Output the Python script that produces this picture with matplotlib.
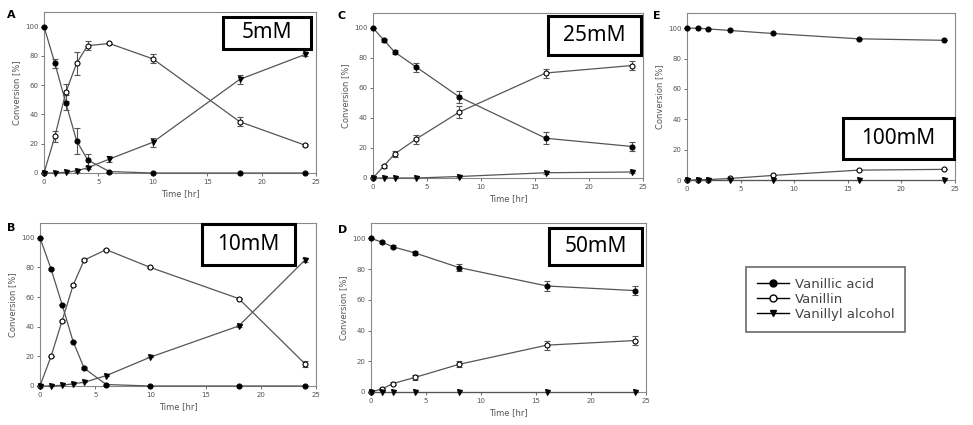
import matplotlib.pyplot as plt
from matplotlib.patches import Rectangle
from matplotlib.lines import Line2D

W, H = 973, 425

# time points [hr]
time_ab = [0, 1, 2, 3, 4, 6, 10, 18, 24]
time_cde = [0, 1, 2, 4, 8, 16, 24]

# A: 5 mM
a_acid = [100, 75, 48, 22, 9, 1, 0, 0, 0]
a_acid_err = [0, 3, 5, 9, 4, 0, 0, 0, 0]
a_vanillin = [0, 25, 55, 75, 87, 88.5, 78, 35, 19]
a_vanillin_err = [0, 4, 6, 8, 3, 0.5, 3, 3, 0.5]
a_alcohol = [0, 0, 0.5, 1.5, 3.5, 9.5, 21, 64, 81]
a_alcohol_err = [0, 0, 0, 0.5, 1, 2, 3, 3, 1]

# B: 10 mM
b_acid = [100, 79, 55, 30, 12, 1, 0, 0, 0]
b_acid_err = [0, 0.5, 0.5, 0.5, 0.5, 0, 0, 0, 0]
b_vanillin = [0, 20, 44, 68, 85, 92, 80, 59, 15]
b_vanillin_err = [0, 0.5, 0.5, 0.5, 0.5, 0.5, 0.5, 0.5, 2]
b_alcohol = [0, 0, 0.5, 1.5, 2.5, 7, 19.5, 40.5, 85]
b_alcohol_err = [0, 0, 0, 0, 0, 0, 0, 0.5, 1.5]

# C: 25 mM
c_acid = [100, 92, 84, 74, 54, 26.5, 21]
c_acid_err = [0, 1, 1.5, 3, 4, 4, 3]
c_vanillin = [0, 8, 16, 26, 44, 70, 75]
c_vanillin_err = [0, 1, 2, 3, 4, 3, 3]
c_alcohol = [0, 0, 0, 0, 1, 3.5, 4]
c_alcohol_err = [0, 0, 0, 0, 0.5, 0.5, 0.5]

# D: 50 mM
d_acid = [100, 97.5, 94.5, 90.5, 81, 69, 66]
d_acid_err = [0, 0.5, 1, 1.5, 2, 3, 3]
d_vanillin = [0, 2, 5.5, 9.5, 18, 30.5, 33.5]
d_vanillin_err = [0, 0.5, 1, 1.5, 2, 3, 3]
d_alcohol = [0, 0, 0, 0, 0, 0, 0]
d_alcohol_err = [0, 0, 0, 0, 0, 0, 0]

# E: 100 mM
e_acid = [100, 100, 99.5, 98.5, 96.5, 93, 92]
e_acid_err = [0, 0, 0, 0, 0, 0, 0]
e_vanillin = [0, 0, 0.3, 1, 3, 6.5, 7]
e_vanillin_err = [0, 0, 0, 0, 0, 0, 0]
e_alcohol = [0, 0, 0, 0, 0, 0, 0]
e_alcohol_err = [0, 0, 0, 0, 0, 0, 0]

series_labels = ["Vanillic acid", "Vanillin", "Vanillyl alcohol"]
GREY = "#555555"


def px_rect(x0, y0, x1, y1):
    """pixel box (top-left origin) -> figure fraction [left, bottom, width, height]"""
    return [x0 / W, 1 - y1 / H, (x1 - x0) / W, (y1 - y0) / H]


def draw_panel(ax, t, acid, acid_err, van, van_err, alc, alc_err, xlabel=True):
    styles = [
        (acid, acid_err, dict(marker="o", mfc="black", mec="black")),
        (van, van_err, dict(marker="o", mfc="white", mec="black")),
        (alc, alc_err, dict(marker="v", mfc="black", mec="black")),
    ]
    for y, err, st in styles:
        ax.errorbar(t, y, yerr=err, color=GREY, lw=0.9, ms=3.6, mew=0.8,
                    ecolor=GREY, elinewidth=0.8, capsize=2.5, capthick=0.8,
                    clip_on=False, zorder=3, **st)
    ax.set_xlim(0, 25)
    ax.set_ylim(0, 110)
    ax.set_xticks([0, 5, 10, 15, 20, 25])
    ax.set_yticks([0, 20, 40, 60, 80, 100])
    ax.tick_params(labelsize=5, colors=GREY, length=2, width=0.6, pad=2)
    for s in ax.spines.values():
        s.set_color("#888888")
        s.set_linewidth(0.8)
    ax.set_ylabel("Conversion [%]", fontsize=6, color=GREY, labelpad=3)
    if xlabel:
        ax.set_xlabel("Time [hr]", fontsize=6, color=GREY, labelpad=3)


fig = plt.figure(figsize=(W / 100, H / 100), dpi=100)

ax_a = fig.add_axes(px_rect(44, 12, 316, 173))
ax_b = fig.add_axes(px_rect(40, 223, 316, 386))
ax_c = fig.add_axes(px_rect(373, 13, 643, 178))
ax_d = fig.add_axes(px_rect(371, 223, 646, 392))
ax_e = fig.add_axes(px_rect(687, 13, 955, 180))

draw_panel(ax_a, time_ab, a_acid, a_acid_err, a_vanillin, a_vanillin_err, a_alcohol, a_alcohol_err)
draw_panel(ax_b, time_ab, b_acid, b_acid_err, b_vanillin, b_vanillin_err, b_alcohol, b_alcohol_err)
draw_panel(ax_c, time_cde, c_acid, c_acid_err, c_vanillin, c_vanillin_err, c_alcohol, c_alcohol_err)
draw_panel(ax_d, time_cde, d_acid, d_acid_err, d_vanillin, d_vanillin_err, d_alcohol, d_alcohol_err)
draw_panel(ax_e, time_cde, e_acid, e_acid_err, e_vanillin, e_vanillin_err, e_alcohol, e_alcohol_err,
           xlabel=False)

# panel letters (pixel positions of their top-left corners)
letters = [("A", 7, 10), ("B", 7, 223), ("C", 337, 11), ("D", 338, 225), ("E", 653, 11)]
for letter, x, y in letters:
    fig.text(x / W, 1 - y / H, letter, fontsize=8, fontweight="bold", ha="left", va="top")

# concentration boxes
boxes = [
    ("5mM", (223, 17, 311, 49)),
    ("10mM", (202, 224, 295, 265)),
    ("25mM", (548, 16, 641, 55)),
    ("50mM", (549, 228, 642, 265)),
    ("100mM", (843, 118, 954, 159)),
]
for label, (x0, y0, x1, y1) in boxes:
    l, b, w, h = px_rect(x0, y0, x1, y1)
    fig.add_artist(Rectangle((l, b), w, h, transform=fig.transFigure,
                             facecolor="white", edgecolor="black", lw=2.2, zorder=10))
    fig.text(l + w / 2, b + h / 2, label, fontsize=15, ha="center", va="center",
             zorder=11, family="Noto Sans")

# legend
handles = [
    Line2D([], [], color="black", lw=1, marker="o", mfc="black", mec="black", ms=5),
    Line2D([], [], color="black", lw=1, marker="o", mfc="white", mec="black", ms=5),
    Line2D([], [], color="black", lw=1, marker="v", mfc="black", mec="black", ms=5),
]
l, b, w, h = px_rect(745, 263, 907, 336)
leg = fig.legend(handles, series_labels, loc="center", bbox_to_anchor=(l + w / 2, b + h / 2),
                 fontsize=9.5, frameon=True, fancybox=False, handlelength=2.4,
                 labelspacing=0.15, borderpad=0.8, handletextpad=0.5)
leg.get_frame().set_edgecolor("#444444")
leg.get_frame().set_linewidth(1.2)
for txt in leg.get_texts():
    txt.set_color("#444444")

fig.savefig("out.png", dpi=100)
